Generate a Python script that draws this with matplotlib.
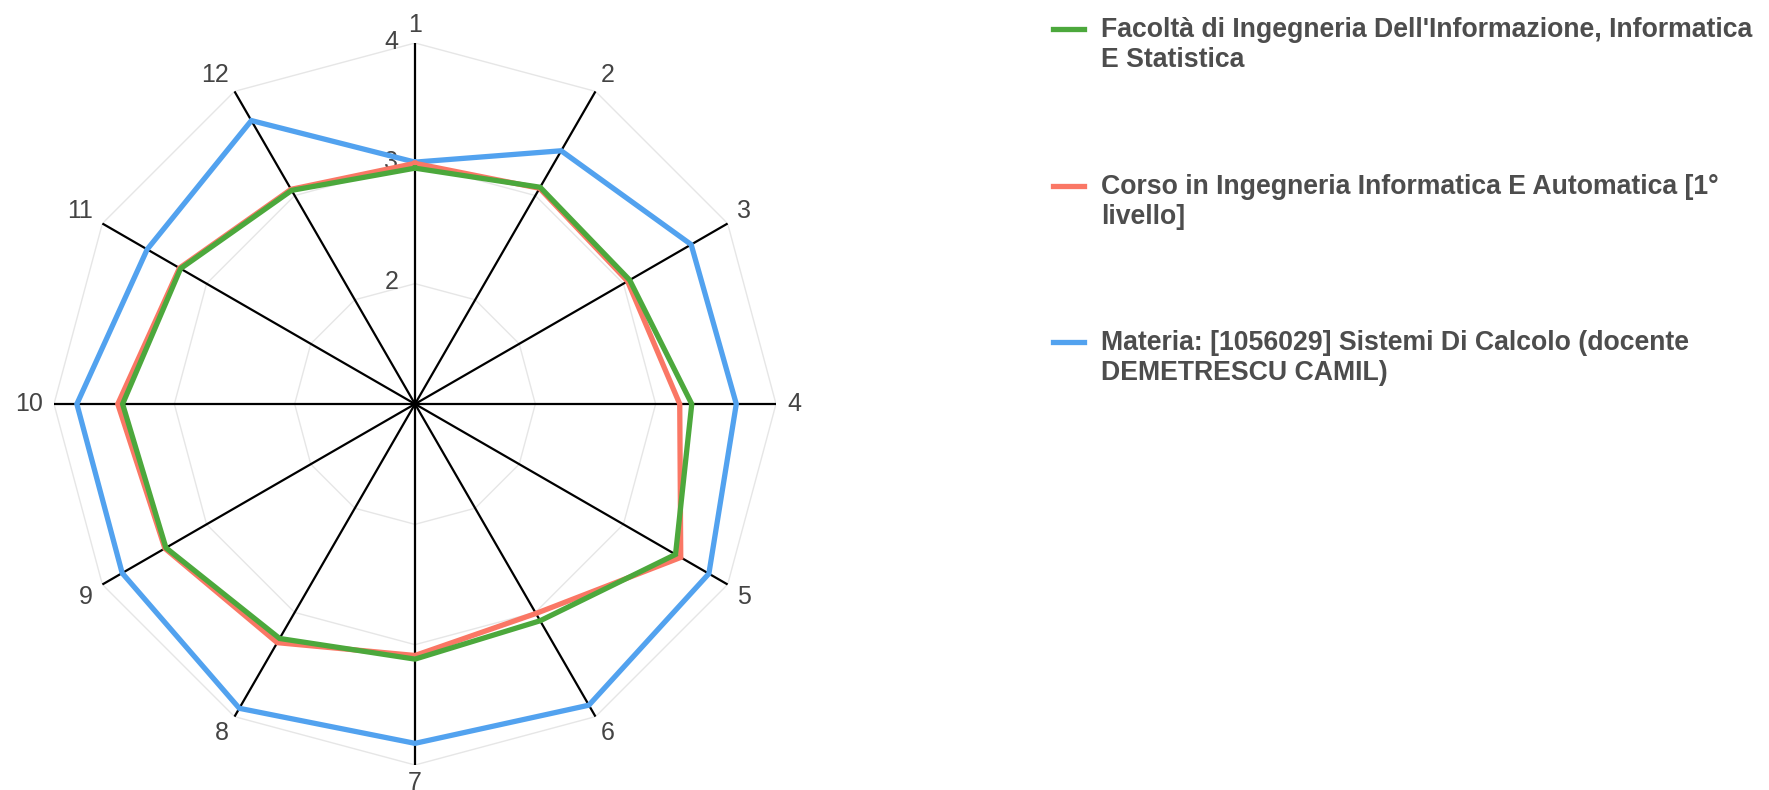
import numpy as np
import matplotlib
matplotlib.use("Agg")
import matplotlib.pyplot as plt
from matplotlib.lines import Line2D

plt.rcParams['font.family'] = ['Liberation Sans', 'DejaVu Sans']

categories = ['1', '2', '3', '4', '5', '6', '7', '8', '9', '10', '11', '12']
facolta = [2.96, 3.08, 3.06, 3.30, 3.50, 3.08, 3.12, 3.25, 3.39, 3.43, 3.25, 3.05]
corso = [3.00, 3.07, 3.04, 3.20, 3.55, 3.01, 3.09, 3.29, 3.40, 3.47, 3.26, 3.06]
materia = [3.01, 3.43, 3.65, 3.67, 3.82, 3.89, 3.82, 3.92, 3.81, 3.81, 3.57, 3.72]
ring_ticks = [2, 3, 4]
r_min, r_max = 1, 4

series_names = ["Facoltà di Ingegneria Dell'Informazione, Informatica\nE Statistica",
                "Corso in Ingegneria Informatica E Automatica [1°\nlivello]",
                "Materia: [1056029] Sistemi Di Calcolo (docente\nDEMETRESCU CAMIL)"]
colors = ['#4ca83c', '#fa7765', '#52a2ef']

W, H = 1769, 790
fig = plt.figure(figsize=(W / 100, H / 100), dpi=100)
ax = fig.add_axes([54 / W, 25 / H, 722 / W, 722 / H], projection='polar')
ax.set_theta_zero_location('N')
ax.set_theta_direction(-1)
ax.set_ylim(r_min, r_max)
ax.grid(False)
ax.spines['polar'].set_visible(False)
ax.set_xticks([])
ax.set_yticks([])

n = len(categories)
theta = np.arange(n) * 2 * np.pi / n
theta_closed = np.append(theta, theta[0])

# polygon grid
for r in ring_ticks:
    ax.plot(theta_closed, [r] * (n + 1), color='#e6e6e6', lw=1, zorder=1)

# spokes
for t in theta:
    ax.plot([t, t], [r_min, r_max], color='black', lw=1.6, zorder=2)

# radial tick labels
for r in ring_ticks:
    ax.annotate(str(r), xy=(0, r), xytext=(-12, 1), textcoords='offset points',
                ha='right', va='center', fontsize=18, color='#444444', zorder=1)

# category labels, placed just outside the outer ring like chart.js does
pad = 8
for t, lab in zip(theta, categories):
    deg = round(np.degrees(t)) % 360
    if deg in (0, 180):
        ha = 'center'
    elif deg < 180:
        ha = 'left'
    else:
        ha = 'right'
    dy = 0
    if deg in (90, 270):
        va = 'center'
    elif deg < 90 or deg > 270:
        va = 'baseline'
    else:
        va = 'top'
        dy = 3.5
    ax.annotate(lab, xy=(t, r_max), xytext=(pad * np.sin(t), pad * np.cos(t) + dy),
                textcoords='offset points', ha=ha, va=va, fontsize=18,
                color='#444444', annotation_clip=False)

# series, blue first, green on top
data = [facolta, corso, materia]
for i in [2, 1, 0]:
    vals = data[i] + [data[i][0]]
    ax.plot(theta_closed, vals, color=colors[i], lw=3.8, zorder=3 + (2 - i),
            solid_joinstyle='miter', clip_on=False)

# legend drawn by hand so the handle sits on the first text line
handle_y = [29, 186, 342]
for name, c, y in zip(series_names, colors, handle_y):
    fy = 1 - y / H
    fig.add_artist(Line2D([1053 / W, 1084 / W], [fy, fy], color=c, lw=3.8,
                          transform=fig.transFigure))
    fig.text(1101 / W, 1 - (y - 12) / H, name, ha='left', va='top', fontsize=19.2,
             fontweight='bold', color='#4d4d4d', linespacing=1.22)

fig.savefig('out.png', dpi=100)
